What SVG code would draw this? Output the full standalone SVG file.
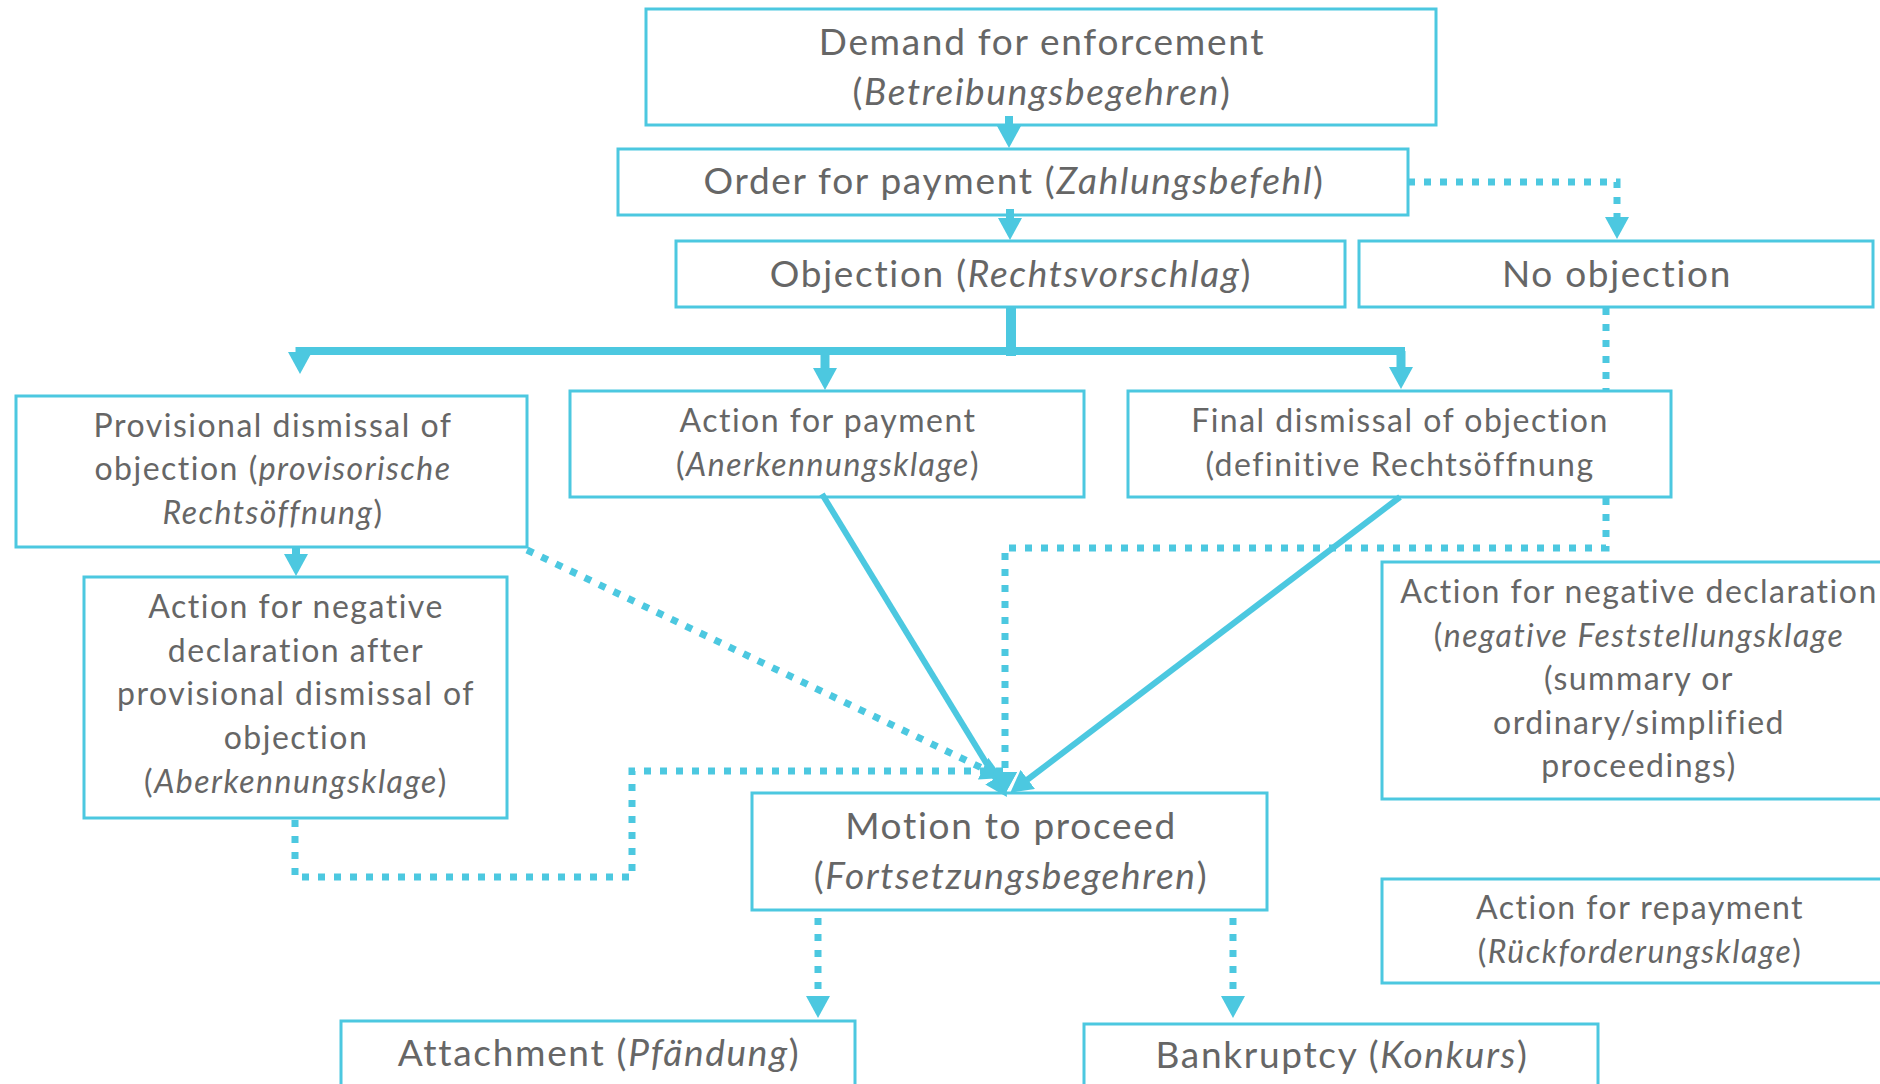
<svg xmlns="http://www.w3.org/2000/svg" width="1880" height="1084" viewBox="0 0 1880 1084">
<defs>
<style>
.box{fill:#fff;stroke:#4cc8e0;stroke-width:3}
.t{font-family:Lato,"Liberation Sans",sans-serif;fill:#666;text-anchor:middle}
.lg{font-size:37px;letter-spacing:1.7px}
.md{font-size:32px;letter-spacing:1.5px}
.i{font-style:italic}
.c{fill:none;stroke:#4cc8e0;stroke-linejoin:miter}
.solid{stroke-width:8}
.thin{stroke-width:6}
.dot{stroke-width:7;stroke-dasharray:7 9}
</style>
<marker id="ah" viewBox="0 0 22 24" refX="1" refY="12" markerWidth="22" markerHeight="24" markerUnits="userSpaceOnUse" orient="auto">
<path d="M0,0 L22,12 L0,24 Z" fill="#4cc8e0"/>
</marker>
</defs>
<rect width="1880" height="1084" fill="#fff"/>

<g id="n-demand"><rect class="box" x="646" y="9" width="790" height="116"/>
<text class="t lg" x="1042" y="55">Demand for enforcement</text>
<text class="t lg" x="1042" y="105">(<tspan class="i">Betreibungsbegehren</tspan>)</text></g>

<g id="n-order"><rect class="box" x="618" y="149" width="790" height="66"/>
<text class="t lg" x="1014" y="194">Order for payment (<tspan class="i">Zahlungsbefehl</tspan>)</text></g>

<g id="n-objection"><rect class="box" x="676" y="241" width="669" height="66"/>
<text class="t lg" x="1011" y="287">Objection (<tspan class="i">Rechtsvorschlag</tspan>)</text></g>

<g id="n-noobjection"><rect class="box" x="1359" y="241" width="514" height="66"/>
<text class="t lg" x="1617" y="287">No objection</text></g>

<g id="n-provisional"><rect class="box" x="16" y="396" width="511" height="151"/>
<text class="t md" x="273" y="437">Provisional dismissal of</text>
<text class="t md" x="273" y="480">objection (<tspan class="i">provisorische</tspan></text>
<text class="t md" x="273" y="524"><tspan class="i">Rechtsöffnung</tspan>)</text></g>

<g id="n-payment"><rect class="box" x="570" y="391" width="514" height="106"/>
<text class="t md" x="828" y="432">Action for payment</text>
<text class="t md" x="828" y="476">(<tspan class="i">Anerkennungsklage</tspan>)</text></g>

<g id="n-final"><rect class="box" x="1128" y="391" width="543" height="106"/>
<text class="t md" x="1400" y="432">Final dismissal of objection</text>
<text class="t md" x="1400" y="476">(definitive Rechtsöffnung</text></g>

<g id="n-aberkennung"><rect class="box" x="84" y="577" width="423" height="241"/>
<text class="t md" x="296" y="618">Action for negative</text>
<text class="t md" x="296" y="662">declaration after</text>
<text class="t md" x="296" y="705">provisional dismissal of</text>
<text class="t md" x="296" y="749">objection</text>
<text class="t md" x="296" y="793">(<tspan class="i">Aberkennungsklage</tspan>)</text></g>

<g id="n-negative"><rect class="box" x="1382" y="562" width="512" height="237"/>
<text class="t md" x="1639" y="603">Action for negative declaration</text>
<text class="t md" x="1639" y="647">(<tspan class="i">negative Feststellungsklage</tspan></text>
<text class="t md" x="1639" y="690">(summary or</text>
<text class="t md" x="1639" y="734">ordinary/simplified</text>
<text class="t md" x="1639" y="777">proceedings)</text></g>

<g id="n-motion"><rect class="box" x="752" y="793" width="515" height="117"/>
<text class="t lg" x="1011" y="839">Motion to proceed</text>
<text class="t lg" x="1011" y="889">(<tspan class="i">Fortsetzungsbegehren</tspan>)</text></g>

<g id="n-repayment"><rect class="box" x="1382" y="879" width="514" height="104"/>
<text class="t md" x="1640" y="919">Action for repayment</text>
<text class="t md" x="1640" y="963">(<tspan class="i">Rückforderungsklage</tspan>)</text></g>

<g id="n-attachment"><rect class="box" x="341" y="1021" width="514" height="80"/>
<text class="t lg" x="599" y="1066">Attachment (<tspan class="i">Pfändung</tspan>)</text></g>

<g id="n-bankruptcy"><rect class="box" x="1084" y="1024" width="514" height="80"/>
<text class="t lg" x="1342" y="1068">Bankruptcy (<tspan class="i">Konkurs</tspan>)</text></g>

<g id="connectors">
<path class="c solid" d="M1009,116 V127" marker-end="url(#ah)"/>
<path class="c solid" d="M1010,209 V219" marker-end="url(#ah)"/>
<path class="c" stroke-width="10" d="M1011,308 V356"/>
<path class="c solid" d="M296,351 H1405"/>
<path class="c" stroke-width="9" d="M300,347 V353" marker-end="url(#ah)"/>
<path class="c" stroke-width="9" d="M825,351 V369" marker-end="url(#ah)"/>
<path class="c" stroke-width="9" d="M1401,351 V368" marker-end="url(#ah)"/>
<path class="c solid" d="M296,546 V555" marker-end="url(#ah)"/>
<path class="c thin" d="M822,494 L996,779" marker-end="url(#ah)"/>
<path class="c thin" d="M1400,497 L1027,780" marker-end="url(#ah)"/>
<path class="c dot" d="M1408,182 H1617 V218" marker-end="url(#ah)"/>
<path class="c dot" d="M1606,308 V390 M1606,498 V548 H1005 V773" marker-end="url(#ah)"/>
<path class="c dot" d="M527,550 L984,769" marker-end="url(#ah)"/>
<path class="c dot" d="M295,820 V877 H632 V771 H1005 V773" marker-end="url(#ah)"/>
<path class="c dot" d="M818,918 V997" marker-end="url(#ah)"/>
<path class="c dot" d="M1233,918 V997" marker-end="url(#ah)"/>
</g>
</svg>
